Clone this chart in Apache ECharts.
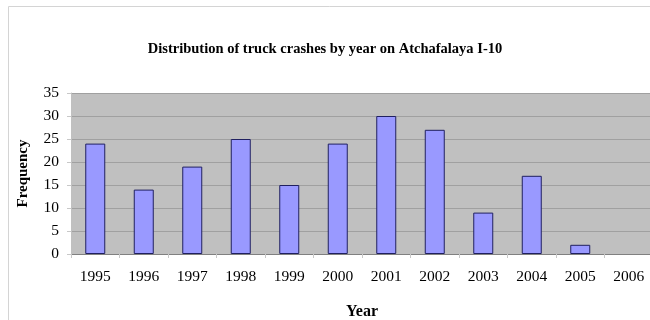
<!DOCTYPE html>
<html><head><meta charset="utf-8">
<script src="https://cdn.jsdelivr.net/npm/echarts@6/dist/echarts.min.js"></script>
<style>html,body{margin:0;padding:0;background:#fff}#c{width:650px;height:320px}</style>
</head><body><div id="c"></div>
<script>
const years = ['1995','1996','1997','1998','1999','2000','2001','2002','2003','2004','2005','2006'];
const frequency = [24,14,19,25,15,24,30,27,9,17,2,0];
const yTicks = [0,5,10,15,20,25,30,35];
const titleText = 'Distribution of truck crashes by year on Atchafalaya I-10';
const xName = 'Year';
const yName = 'Frequency';

const serif = '"Liberation Serif", "Times New Roman", serif';
const chart = echarts.init(document.getElementById('c'), null, {renderer:'canvas'});
chart.setOption({
  animation:false,
  backgroundColor:'#fff',
  graphic:[{type:'rect', shape:{x:8.5,y:6.5,width:700,height:400}, style:{fill:'none', stroke:'#d4d4d4', lineWidth:1}, silent:true, z:-10}],
  title:{text:titleText, left:'center', top:37, textStyle:{fontFamily:serif, fontSize:14.5, fontWeight:'bold', color:'#000'}},
  grid:{left:71, top:93, width:582, height:161, show:true, backgroundColor:'#c0c0c0', borderWidth:0, containLabel:false, outerBoundsMode:'none'},
  xAxis:{type:'category', data:years, name:xName, nameLocation:'middle', nameGap:50,
    nameTextStyle:{fontFamily:serif, fontSize:16, fontWeight:'bold', color:'#000'},
    axisLine:{show:true, lineStyle:{color:'#808080', width:1}},
    axisTick:{show:true, alignWithLabel:false, length:4, lineStyle:{color:'#c8c8c8'}},
    axisLabel:{fontFamily:serif, fontSize:15.5, color:'#000', margin:15},
    splitLine:{show:false}},
  yAxis:{type:'value', min:0, max:35, interval:5, name:yName, nameLocation:'middle', nameGap:40,
    nameTextStyle:{fontFamily:serif, fontSize:15, fontWeight:'bold', color:'#000'},
    axisLine:{show:true, lineStyle:{color:'#c0c0c0'}},
    axisTick:{show:true, length:4, lineStyle:{color:'#c8c8c8'}},
    axisLabel:{fontFamily:serif, fontSize:15.5, color:'#000', margin:12,
      formatter:v=>yTicks.includes(v)?String(v):''},
    splitLine:{show:true, lineStyle:{color:'#a0a0a0', width:1}}},
  series:[{type:'bar', barWidth:20,
    data:frequency.map(v => v === 0 ? {value:v, itemStyle:{borderWidth:0}} : v),
    itemStyle:{color:'#9999ff', borderColor:'#202060', borderWidth:1}}]
});
</script></body></html>
